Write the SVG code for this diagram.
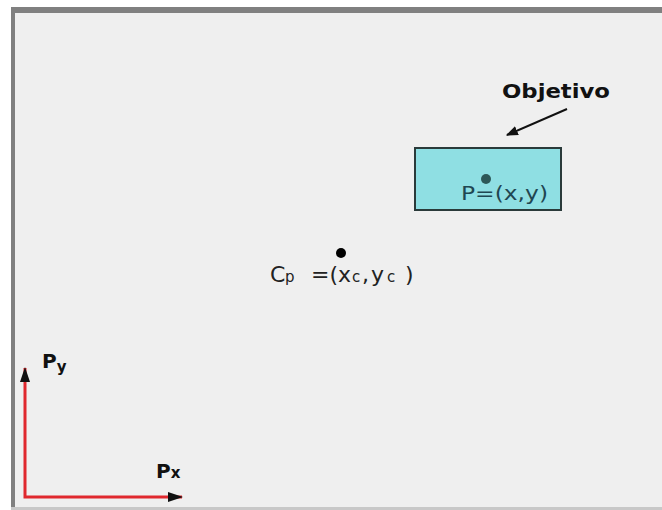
<svg xmlns="http://www.w3.org/2000/svg" width="662" height="510" viewBox="0 0 662 510">
<style>
text{font-family:"DejaVu Sans","Liberation Sans",sans-serif}
.axis{stroke:#e0282e;stroke-width:3;fill:none}
.lbl{font-weight:bold;fill:#111}
</style>
<defs>
<marker id="ah2" viewBox="0 0 10 10" refX="9" refY="5" markerWidth="6" markerHeight="6" orient="auto" markerUnits="strokeWidth">
<path d="M0,1 L10,5 L0,9 Z" fill="#111"/>
</marker>
</defs>
<rect x="0" y="0" width="662" height="510" fill="#ffffff"/>
<rect x="11" y="7" width="651" height="501" fill="#808080"/>
<rect x="15" y="13" width="647" height="494" fill="#efefef"/>
<rect x="11" y="507" width="651" height="3" fill="#c8c8c8"/>

<g id="connectors">
<line x1="567" y1="109" x2="507" y2="135" stroke="#111" stroke-width="2" marker-end="url(#ah2)"/>
<path class="axis" d="M25,368 L25,497 L182,497"/>
<path d="M20,382 L25,367 L30,382 Z" fill="#111"/>
<path d="M168,492 L183,497 L168,502 Z" fill="#111"/>
</g>

<g id="objetivo">
<text class="lbl" x="502" y="98" font-size="20" textLength="108" lengthAdjust="spacingAndGlyphs">Objetivo</text>
</g>

<g id="target">
<rect x="415" y="148" width="146" height="62" fill="#8fdfe3" stroke="#2a3a3a" stroke-width="2"/>
<circle cx="486" cy="179" r="5" fill="#2d5858"/>
<text x="461" y="200" font-size="19" fill="#1f4752" textLength="87" lengthAdjust="spacingAndGlyphs">P=(x,y)</text>
</g>

<g id="cp">
<circle cx="341" cy="253" r="5" fill="#000"/>
<text font-size="22" fill="#222" y="282"><tspan x="270">C</tspan><tspan x="285" font-size="15">p</tspan><tspan x="311">=(</tspan><tspan x="338">x</tspan><tspan x="352" font-size="15">c</tspan><tspan x="362">,</tspan><tspan x="371">y</tspan><tspan x="387" font-size="15">c</tspan><tspan x="405">)</tspan></text>
</g>

<g id="py">
<text class="lbl" x="42" y="368" font-size="20">P<tspan font-size="15" dy="4">y</tspan></text>
</g>
<g id="px">
<text class="lbl" x="156" y="478" font-size="20">P<tspan font-size="15">x</tspan></text>
</g>
</svg>
